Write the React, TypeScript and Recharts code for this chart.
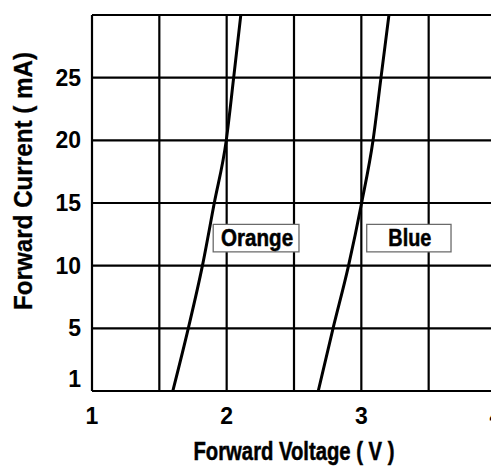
import React from 'react';
import { LineChart, Line, XAxis, YAxis, CartesianGrid, ReferenceArea } from 'recharts';

// Forward voltage (V) vs forward current (mA)
const orangeVoltage = [1.6, 1.715, 1.82, 1.908, 1.997, 2.052, 2.105];
const orangeCurrent = [0, 5, 10, 15, 20, 25, 30];
const blueVoltage = [2.68, 2.79, 2.905, 3.002, 3.087, 3.146, 3.205];
const blueCurrent = [0, 5, 10, 15, 20, 25, 30];

const xTicks = [1, 2, 3, 4];
const yTicks = [1, 5, 10, 15, 20, 25];
const xGridValues = [1, 1.5, 2, 2.5, 3, 3.5, 4];
const yGridValues = [0, 5, 10, 15, 20, 25, 30];

const seriesNames = ['Orange', 'Blue'];
const labelBoxVoltage = [
  [1.9, 2.537],
  [3.04, 3.666],
];
const labelBoxCurrent = [11.1, 13.3];
const labelTextLength = [72, 43];

const xTitle = 'Forward Voltage ( V )';
const yTitle = 'Forward Current ( mA)';

const orangeData = orangeVoltage.map((v, i) => ({ v, i: orangeCurrent[i] }));
const blueData = blueVoltage.map((v, i) => ({ v, i: blueCurrent[i] }));

const FONT = "'Liberation Sans', Arial, sans-serif";

const BoxText = (props: any) => {
  const { viewBox, text, len } = props;
  if (!viewBox) return null;
  const cx = viewBox.x + viewBox.width / 2 + 1;
  const cy = viewBox.y + viewBox.height / 2;
  return (
    <text
      x={cx}
      y={cy}
      dy="0.36em"
      textAnchor="middle"
      fontFamily={FONT}
      fontWeight="bold"
      fontSize={23}
      textLength={len}
      lengthAdjust="spacingAndGlyphs"
      fill="#000"
      stroke="#000"
      strokeWidth={0.5}
    >
      {text}
    </text>
  );
};

const XTitle = (props: any) => {
  const { viewBox } = props;
  if (!viewBox) return null;
  return (
    <text
      x={viewBox.x + viewBox.width / 2}
      y={viewBox.y + viewBox.height - 6}
      textAnchor="middle"
      fontFamily={FONT}
      fontWeight="bold"
      fontSize={25}
      textLength={201}
      lengthAdjust="spacingAndGlyphs"
      fill="#000"
      stroke="#000"
      strokeWidth={0.5}
    >
      {xTitle}
    </text>
  );
};

const YTitle = (props: any) => {
  const { viewBox } = props;
  if (!viewBox) return null;
  const x = viewBox.x + 24;
  const y = viewBox.y + viewBox.height / 2 - 22;
  return (
    <text
      x={x}
      y={y}
      transform={`rotate(-90, ${x}, ${y})`}
      textAnchor="middle"
      fontFamily={FONT}
      fontWeight="bold"
      fontSize={25}
      textLength={258}
      lengthAdjust="spacingAndGlyphs"
      fill="#000"
      stroke="#000"
      strokeWidth={0.3}
    >
      {yTitle}
    </text>
  );
};

const tickStyle = {
  fontFamily: FONT,
  fontWeight: 'bold' as const,
  fontSize: 23,
  fill: '#000',
};

export default function App() {
  return (
    <LineChart
      width={491}
      height={458}
      margin={{ top: 7, right: 3, left: 0, bottom: 0 }}
      style={{ background: '#fff' }}
    >
      <CartesianGrid
        stroke="#000"
        strokeWidth={2.2}
        horizontalValues={yGridValues}
        verticalValues={xGridValues}
      />
      <XAxis
        type="number"
        dataKey="v"
        domain={[1, 4]}
        ticks={xTicks}
        interval={0}
        allowDataOverflow
        axisLine={false}
        tickLine={false}
        tickSize={0}
        tickMargin={17}
        height={75}
        tick={tickStyle}
        label={<XTitle />}
      />
      <YAxis
        type="number"
        dataKey="i"
        domain={[0, 30]}
        ticks={yTicks}
        interval={0}
        allowDataOverflow
        axisLine={false}
        tickLine={false}
        tickSize={0}
        tickMargin={11}
        width={84}
        tick={tickStyle}
        label={<YTitle />}
      />
      <Line
        data={orangeData}
        dataKey="i"
        name={seriesNames[0]}
        type="monotone"
        stroke="#000"
        strokeWidth={3}
        dot={false}
        activeDot={false}
        isAnimationActive={false}
      />
      <Line
        data={blueData}
        dataKey="i"
        name={seriesNames[1]}
        type="monotone"
        stroke="#000"
        strokeWidth={3}
        dot={false}
        activeDot={false}
        isAnimationActive={false}
      />
      {seriesNames.map((name, k) => (
        <ReferenceArea
          key={name}
          x1={labelBoxVoltage[k][0]}
          x2={labelBoxVoltage[k][1]}
          y1={labelBoxCurrent[0]}
          y2={labelBoxCurrent[1]}
          fill="#fff"
          fillOpacity={1}
          stroke="#6a6a6a"
          strokeWidth={1.3}
          label={<BoxText text={name} len={labelTextLength[k]} />}
        />
      ))}
    </LineChart>
  );
}
